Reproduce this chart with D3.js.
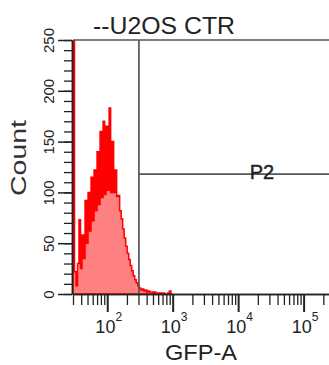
<!DOCTYPE html>
<html lang="en">
<head>
<meta charset="UTF-8" />
<title>U2OS CTR GFP-A histogram</title>
<script src="https://cdnjs.cloudflare.com/ajax/libs/d3/7.8.2/d3.min.js"></script>
<style>
  body { margin: 0; padding: 0; background: #fff; }
  svg { display: block; font-family: Arial, "Liberation Sans", sans-serif; }
</style>
</head>
<body>
<svg id="chart" width="329" height="365"></svg>
<script>
// ---- data ----
const title = "--U2OS CTR";
const xLabel = "GFP-A";
const yLabel = "Count";
const gateName = "P2";

// histogram bins: equal width in log10(GFP-A), first bin starts at 10^1.477
const binStartLog = 1.477;
const binWidthLog = 0.023;
const counts = [
  260, 22, 8, 30, 73, 25, 58, 35, 92, 50,
  100, 62, 115, 72, 122, 82, 140, 88, 160, 95,
  170, 98, 165, 102, 183, 100, 150, 100, 122, 96,
  97, 82, 74, 64, 55, 47, 40, 34, 28, 23,
  18, 14, 11, 8, 6, 4, 5, 3, 4, 2,
  3, 2, 2, 1, 2, 1, 1, 0, 1, 0,
  1, 0, 0, 1, 3, 0
];

const xDomain = [30, 262144];
const yDomain = [0, 250];
const xMajorTicks = [1e2, 1e3, 1e4, 1e5];
const xMinorTicks = [30, 40, 50, 60, 70, 80, 90,
  200, 300, 400, 500, 600, 700, 800, 900,
  2000, 3000, 4000, 5000, 6000, 7000, 8000, 9000,
  20000, 30000, 40000, 50000, 60000, 70000, 80000, 90000,
  200000];
const yMajorTicks = [0, 50, 100, 150, 200, 250];
const yMinorTicks = d3.range(0, 251, 10);

// gate P2: from GFP-A ~305 upward, drawn at count ~118
const gateX = 305;
const gateY = 118;

// ---- layout ----
const svg = d3.select("#chart");
const plotLeft = 73, plotRight = 331, plotTop = 40, plotBottom = 294;

const x = d3.scaleLog().domain(xDomain).range([plotLeft, plotRight]);
const y = d3.scaleLinear().domain(yDomain).range([plotBottom, plotTop]);

svg.append("defs").append("clipPath").attr("id", "plotClip")
  .append("rect")
  .attr("x", plotLeft - 0.5).attr("y", plotTop)
  .attr("width", plotRight - plotLeft + 1).attr("height", plotBottom - plotTop);

// histogram as a step area
const bins = counts.map((c, i) => ({
  x0: Math.pow(10, binStartLog + i * binWidthLog),
  c: c
}));
bins.push({ x0: Math.pow(10, binStartLog + counts.length * binWidthLog), c: 0 });

const area = d3.area()
  .curve(d3.curveStepAfter)
  .x(d => x(d.x0))
  .y0(y(0))
  .y1(d => y(d.c));

svg.append("path")
  .datum(bins)
  .attr("clip-path", "url(#plotClip)")
  .attr("d", area)
  .attr("fill", "#ff8080")
  .attr("stroke", "#ff0000")
  .attr("stroke-width", 1.5);

// top frame + gate lines
const gateColor = "#555";
svg.append("line")
  .attr("x1", plotLeft).attr("x2", 329)
  .attr("y1", plotTop).attr("y2", plotTop)
  .attr("stroke", gateColor).attr("stroke-width", 1.7);

svg.append("line")
  .attr("x1", x(gateX)).attr("x2", x(gateX))
  .attr("y1", plotTop).attr("y2", plotBottom)
  .attr("stroke", gateColor).attr("stroke-width", 1.7);

svg.append("line")
  .attr("x1", x(gateX)).attr("x2", 329)
  .attr("y1", y(gateY)).attr("y2", y(gateY))
  .attr("stroke", gateColor).attr("stroke-width", 1.7);

svg.append("text")
  .attr("x", 262).attr("y", y(gateY) + 5)
  .attr("text-anchor", "middle")
  .attr("font-size", 20)
  .attr("fill", "#222")
  .attr("stroke", "#222").attr("stroke-width", 0.4)
  .text(gateName);

// ---- axes ----
function styleAxis(g, width) {
  g.select(".domain").attr("stroke", "#222").attr("stroke-width", 1.5);
  g.selectAll(".tick line").attr("stroke", "#222").attr("stroke-width", width);
}

// y minor
svg.append("g")
  .attr("transform", `translate(${plotLeft - 1},0)`)
  .call(d3.axisLeft(y).tickValues(yMinorTicks).tickSize(8).tickSizeOuter(0).tickFormat(""))
  .call(g => styleAxis(g, 1.3));

// y major with rotated labels
svg.append("g")
  .attr("transform", `translate(${plotLeft - 1},0)`)
  .call(d3.axisLeft(y).tickValues(yMajorTicks).tickSize(14).tickSizeOuter(0))
  .call(g => styleAxis(g, 1.5))
  .call(g => g.selectAll(".tick text")
    .attr("transform", "rotate(-90)")
    .attr("x", 0).attr("y", -18).attr("dy", 0)
    .attr("text-anchor", "middle")
    .attr("font-size", 15)
    .attr("font-family", "Arial, 'Liberation Sans', sans-serif")
    .attr("fill", "#222"));

// x minor
svg.append("g")
  .attr("transform", `translate(0,${plotBottom})`)
  .call(d3.axisBottom(x).tickValues(xMinorTicks).tickSize(11).tickSizeOuter(0).tickFormat(""))
  .call(g => styleAxis(g, 1.3));

// x major, labels as 10 with superscript
const xMajor = svg.append("g")
  .attr("transform", `translate(0,${plotBottom})`)
  .call(d3.axisBottom(x).tickValues(xMajorTicks).tickSize(18).tickSizeOuter(0).tickFormat(""))
  .call(g => styleAxis(g, 2));

xMajor.selectAll(".tick text").remove();
xMajor.selectAll(".tick").append("text")
  .attr("x", 1).attr("y", 39)
  .attr("text-anchor", "middle")
  .attr("fill", "#222")
  .attr("font-size", 18)
  .attr("font-family", "Arial, 'Liberation Sans', sans-serif")
  .each(function(d) {
    const t = d3.select(this);
    t.append("tspan").text("10");
    t.append("tspan").attr("dy", -12).attr("font-size", 12).text(Math.round(Math.log10(d)));
  });

// ---- titles ----
svg.append("text")
  .attr("x", 93).attr("y", 34)
  .attr("font-size", 23)
  .attr("fill", "#222")
  .attr("textLength", 142).attr("lengthAdjust", "spacingAndGlyphs")
  .text(title);

svg.append("text")
  .attr("transform", "translate(26,158) rotate(-90)")
  .attr("text-anchor", "middle")
  .attr("font-size", 22)
  .attr("fill", "#333")
  .attr("textLength", 76).attr("lengthAdjust", "spacingAndGlyphs")
  .text(yLabel);

svg.append("text")
  .attr("x", 201).attr("y", 360)
  .attr("text-anchor", "middle")
  .attr("font-size", 22)
  .attr("fill", "#222")
  .attr("textLength", 72).attr("lengthAdjust", "spacingAndGlyphs")
  .text(xLabel);
</script>
</body>
</html>
